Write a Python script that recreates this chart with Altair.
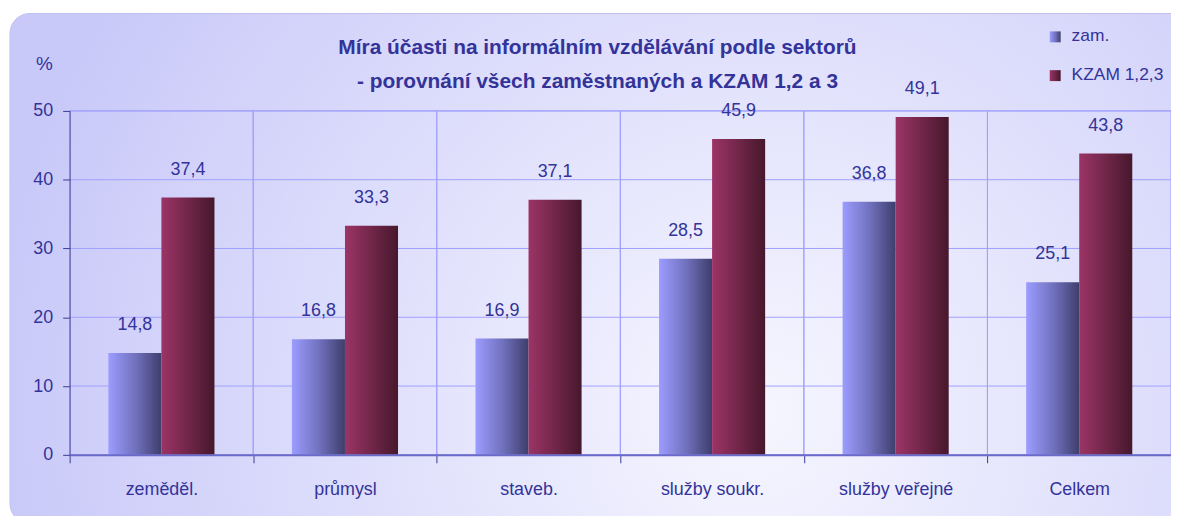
import altair as alt
import pandas as pd

categories = ["zeměděl.", "průmysl", "staveb.", "služby soukr.", "služby veřejné", "Celkem"]
series_names = ["zam.", "KZAM 1,2,3"]
zam_values = [14.8, 16.8, 16.9, 28.5, 36.8, 25.1]
kzam_values = [37.4, 33.3, 37.1, 45.9, 49.1, 43.8]
y_ticks = [0, 10, 20, 30, 40, 50]
title_lines = ["Míra účasti na informálním vzdělávání podle sektorů",
               "- porovnání všech zaměstnaných a KZAM 1,2 a 3"]

rows = []
for c, v in zip(categories, zam_values):
    rows.append({"cat": c, "series": series_names[0], "value": v})
for c, v in zip(categories, kzam_values):
    rows.append({"cat": c, "series": series_names[1], "value": v})
df = pd.DataFrame(rows)

FONT = "Liberation Sans"
TXT = "#333399"
GRID = "#a0a0ff"
W, H = 1108, 346

grad = {
    series_names[0]: alt.LinearGradient(gradient="linear", x1=0, y1=0, x2=1, y2=0,
        stops=[alt.GradientStop(offset=0, color="#9c9cff"),
               alt.GradientStop(offset=0.5, color="#7272c0"),
               alt.GradientStop(offset=1, color="#3e3e6c")]),
    series_names[1]: alt.LinearGradient(gradient="linear", x1=0, y1=0, x2=1, y2=0,
        stops=[alt.GradientStop(offset=0, color="#9c3466"),
               alt.GradientStop(offset=1, color="#46182c")]),
}

bg = alt.Chart(pd.DataFrame({"a": [0]})).mark_rect(
    cornerRadius=20,
    fill=alt.RadialGradient(gradient="radial", x1=0.62, y1=0.62, r1=0, x2=0.62, y2=0.62, r2=0.65,
        stops=[alt.GradientStop(offset=0, color="#f6f6ff"),
               alt.GradientStop(offset=1, color="#c8c8f9")]),
    stroke="#c0c0f0", strokeWidth=1,
).encode(x=alt.value(-60), x2=alt.value(W + 40), y=alt.value(-98), y2=alt.value(415))

xscale = alt.Scale(domain=categories, paddingInner=0, paddingOuter=0)
yscale = alt.Scale(domain=[0, 50], nice=False)

xaxis = alt.Axis(tickBand="extent", labelFont=FONT, labelFontSize=18, labelColor=TXT,
                 labelPadding=18, tickSize=8, tickColor="#3a3a90",
                 domainColor="#6a6ac8", domainWidth=2, zindex=1,
                 grid=False, labelAngle=0)
yaxis = alt.Axis(values=y_ticks, title="%", titleAngle=0,
                 titleX=-26, titleY=-48, titleAlign="center", titleBaseline="middle",
                 titleFont=FONT, titleFontSize=19, titleFontWeight="normal", titleColor=TXT,
                 labelFont=FONT, labelFontSize=18, labelColor=TXT, labelPadding=10,
                 tickSize=7, tickColor="#3a3a90", domainColor="#4a4aa0", zindex=1,
                 grid=False)

xenc = alt.X("cat:N", sort=categories, title=None, scale=xscale, axis=xaxis)
yenc = alt.Y("value:Q", scale=yscale, axis=yaxis)
xoff = alt.XOffset("series:N", sort=series_names,
                   scale=alt.Scale(domain=series_names, paddingInner=0, paddingOuter=0.73))

# grid lines (behind bars)
hgrid = alt.Chart(pd.DataFrame({"value": y_ticks[1:]})).mark_rule(color=GRID, strokeWidth=1).encode(
    y=yenc)
vgrid = alt.Chart(pd.DataFrame({"cat": categories})).mark_rect(
    fill=None, fillOpacity=0, stroke=GRID, strokeWidth=1).encode(
    x=xenc, y=alt.value(0), y2=alt.value(H))

layers = [bg, hgrid, vgrid]
for s in series_names:
    layers.append(
        alt.Chart(df).transform_filter(alt.datum.series == s)
        .mark_bar(fill=grad[s])
        .encode(x=xenc, xOffset=xoff, y=yenc)
    )

labels = alt.Chart(df).transform_calculate(
    lbl="replace(format(datum.value, '.1f'), '.', ',')"
).mark_text(font=FONT, fontSize=18, color=TXT, baseline="alphabetic", dy=-23).encode(
    x=xenc, xOffset=xoff, y=yenc, text="lbl:N")
layers.append(labels)

for line, yy in zip(title_lines, [-57, -23]):
    layers.append(alt.Chart(pd.DataFrame({"t": [line]})).mark_text(
        font=FONT, fontSize=21, fontWeight="bold", color=TXT, align="center",
        baseline="alphabetic").encode(x=alt.value(W / 2 - 23), y=alt.value(yy), text="t:N"))

leg_y = [-75, -36]
for s, yy in zip(series_names, leg_y):
    one = pd.DataFrame({"series": [s]})
    layers.append(alt.Chart(one).mark_rect(fill=grad[s]).encode(
        x=alt.value(986), x2=alt.value(997), y=alt.value(yy - 5), y2=alt.value(yy + 6)))
    layers.append(alt.Chart(one).mark_text(font=FONT, fontSize=17.5, color=TXT, align="left",
                                           baseline="middle").encode(
        x=alt.value(1008), y=alt.value(yy), text="series:N"))

chart = alt.layer(*layers).properties(
    width=W, height=H,
    autosize=alt.AutoSizeParams(type="none"),
    padding={"left": 62, "top": 102, "right": 0, "bottom": 60},
).configure(background="white").configure_view(stroke=None)

chart.save("out.html", embed_options={"renderer": "svg", "actions": False})
